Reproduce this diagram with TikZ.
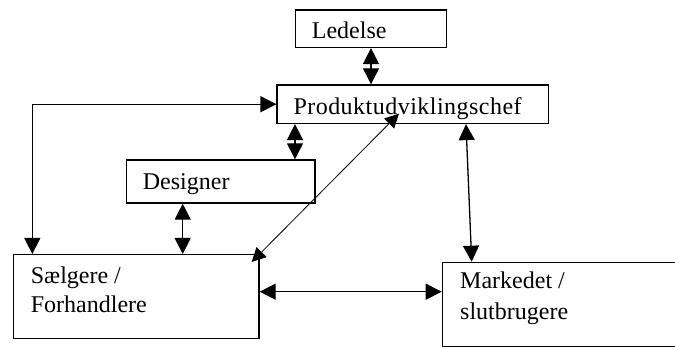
\documentclass[tikz,border=0pt]{standalone}
\usepackage{fontspec}
\setmainfont{Liberation Serif}
\usetikzlibrary{arrows.meta,calc}

\tikzset{
  box/.style={draw=black, line width=1.4pt, fill=none, inner sep=0pt, anchor=north west},
  lbl/.style={anchor=base west, inner sep=0pt, font=\fontsize{24}{28}\selectfont},
  link/.style={line width=1.3pt, {Triangle[width=16pt,length=16pt]}-{Triangle[width=16pt,length=16pt]}},
  thinlink/.style={line width=0.8pt, {Triangle[width=14pt,length=14pt]}-{Triangle[width=14pt,length=14pt]}}
}

\begin{document}
\begin{tikzpicture}[x=1pt,y=-1pt]
  \clip (0,0) rectangle (675,347);
  \fill[white] (0,0) rectangle (675,347);

  % boxes
  \node[box, minimum width=150.6pt, minimum height=37.4pt] (l) at (295,9.3) {};
  \node[box, minimum width=271.2pt, minimum height=38.4pt] (p) at (276.4,84.3) {};
  \node[box, minimum width=188.6pt, minimum height=43pt]   (d) at (125.7,159.3) {};
  \node[box, minimum width=245.4pt, minimum height=83.7pt] (s) at (12.9,254) {};
  \node[box, minimum width=250pt,   minimum height=84.3pt] (m) at (441.7,261.7) {};

  % labels
  \node[lbl] (tl)  at (311.7,39)  {Ledelse};
  \node[lbl] (tp)  at (293.3,115) {\addfontfeature{LetterSpace=2}Produktudviklingschef};
  \node[lbl] (td)  at (142.7,190) {Designer};
  \node[lbl] (ts1) at (30.7,284)  {Sælgere /};
  \node[lbl] (ts2) at (30.7,313)  {Forhandlere};
  \node[lbl] (tm1) at (460,289)   {Markedet /};
  \node[lbl] (tm2) at (460,320)   {slutbrugere};

  % connection points
  \coordinate (pd) at ($(p.south west)+(18.6,0)$);
  \coordinate (ds) at ($(d.south west)+(57,0)$);
  \coordinate (sl) at ($(s.north west)+(19.4,0)$);
  \coordinate (hy) at (0,291.7);
  \coordinate (pm) at ($(p.south west)+(189.6,0)$);
  \coordinate (mp) at ($(m.north west)+(30,0)$);
  \coordinate (sx) at ($(s.north east)+(-8,8)$);
  \coordinate (px) at ($(p.south west)+(122.6,-10.5)$);

  % connectors
  \draw[link] (l.south) -- (l.south |- p.north);
  \draw[link] (pd) -- (pd |- d.north);
  \draw[link] (ds) -- (ds |- s.north);
  \draw[link] (p.west) -| (sl);
  \draw[link] (s.east |- hy) -- (m.west |- hy);
  \draw[link] (pm) -- (mp);
  \draw[thinlink] (sx) -- (px);
\end{tikzpicture}
\end{document}
